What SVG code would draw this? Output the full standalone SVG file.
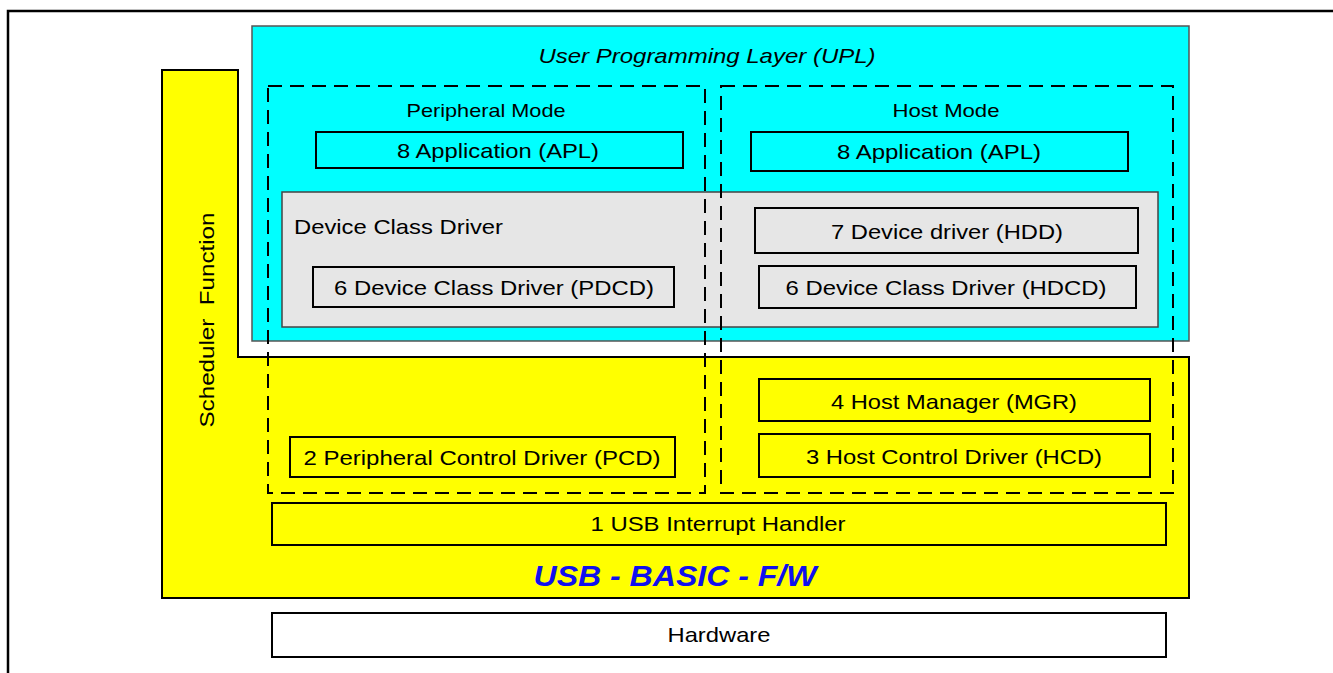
<svg xmlns="http://www.w3.org/2000/svg" width="1333" height="673" viewBox="0 0 1333 673">
<style>
text{font-family:"Liberation Sans",Arial,sans-serif;fill:#000}
.b{stroke:#000;stroke-width:2}
.t{font-size:21px;text-anchor:middle}
.d{fill:none;stroke:#000;stroke-width:2;stroke-dasharray:14,8}
</style>
<rect x="0" y="0" width="1333" height="673" fill="#fff"/>
<g id="frame"><path d="M8,673 V11 H1333" fill="none" stroke="#000" stroke-width="2.5"/></g>
<g id="basic-fw">
<polygon points="162,70 238,70 238,357 1189,357 1189,598 162,598" fill="#ffff00" class="b"/>
<text x="214" y="320" transform="rotate(-90 214 320)" class="t" textLength="215" lengthAdjust="spacingAndGlyphs" xml:space="preserve">Scheduler  Function</text>
<text x="675" y="586" textLength="283" lengthAdjust="spacingAndGlyphs" style="font-size:30px;font-weight:bold;font-style:italic;fill:#1010ee;text-anchor:middle">USB - BASIC - F/W</text>
</g>
<g id="upl">
<rect x="252" y="26" width="937" height="315" fill="#00ffff" stroke="#555" stroke-width="1.5"/>
<text x="707" y="63" class="t" textLength="337" lengthAdjust="spacingAndGlyphs" style="font-style:italic">User Programming Layer (UPL)</text>
</g>
<g id="dcd">
<rect x="282" y="192" width="876" height="135" fill="#e6e6e6" stroke="#444" stroke-width="1.5"/>
<text x="294" y="234" textLength="209" lengthAdjust="spacingAndGlyphs" style="font-size:21px">Device Class Driver</text>
</g>
<g id="peripheral-mode">
<rect x="268" y="86" width="437" height="407" class="d"/>
<text x="486" y="117" textLength="159" lengthAdjust="spacingAndGlyphs" style="font-size:18.5px;text-anchor:middle">Peripheral Mode</text>
</g>
<g id="host-mode">
<rect x="721" y="86" width="452" height="407" class="d"/>
<text x="946" y="117" textLength="107" lengthAdjust="spacingAndGlyphs" style="font-size:18.5px;text-anchor:middle">Host Mode</text>
</g>
<g id="apl-p"><rect x="316" y="132" width="367" height="36" fill="#00ffff" class="b"/><text x="498" y="158" class="t" textLength="202" lengthAdjust="spacingAndGlyphs">8 Application (APL)</text></g>
<g id="apl-h"><rect x="751" y="132" width="377" height="39" fill="#00ffff" class="b"/><text x="939" y="159" class="t" textLength="204" lengthAdjust="spacingAndGlyphs">8 Application (APL)</text></g>
<g id="pdcd"><rect x="313" y="267" width="361" height="40" fill="#e6e6e6" class="b"/><text x="494" y="295" class="t" textLength="320" lengthAdjust="spacingAndGlyphs">6 Device Class Driver (PDCD)</text></g>
<g id="hdd"><rect x="755" y="208" width="383" height="45" fill="#e6e6e6" class="b"/><text x="947" y="239" class="t" textLength="232" lengthAdjust="spacingAndGlyphs">7 Device driver (HDD)</text></g>
<g id="hdcd"><rect x="759" y="266" width="377" height="42" fill="#e6e6e6" class="b"/><text x="946" y="295" class="t" textLength="321" lengthAdjust="spacingAndGlyphs">6 Device Class Driver (HDCD)</text></g>
<g id="mgr"><rect x="759" y="379" width="391" height="42" fill="#ffff00" class="b"/><text x="954" y="409" class="t" textLength="246" lengthAdjust="spacingAndGlyphs">4 Host Manager (MGR)</text></g>
<g id="hcd"><rect x="759" y="434" width="391" height="43" fill="#ffff00" class="b"/><text x="954" y="464" class="t" textLength="296" lengthAdjust="spacingAndGlyphs">3 Host Control Driver (HCD)</text></g>
<g id="pcd"><rect x="290" y="437" width="385" height="40" fill="#ffff00" class="b"/><text x="482" y="465" class="t" textLength="357" lengthAdjust="spacingAndGlyphs">2 Peripheral Control Driver (PCD)</text></g>
<g id="irq"><rect x="272" y="503" width="894" height="42" fill="#ffff00" class="b"/><text x="718" y="531" class="t" textLength="255" lengthAdjust="spacingAndGlyphs">1 USB Interrupt Handler</text></g>
<g id="hardware"><rect x="272" y="613" width="894" height="44" fill="#fff" class="b"/><text x="719" y="642" class="t" textLength="103" lengthAdjust="spacingAndGlyphs">Hardware</text></g>
<g id="connectors"></g>
</svg>
